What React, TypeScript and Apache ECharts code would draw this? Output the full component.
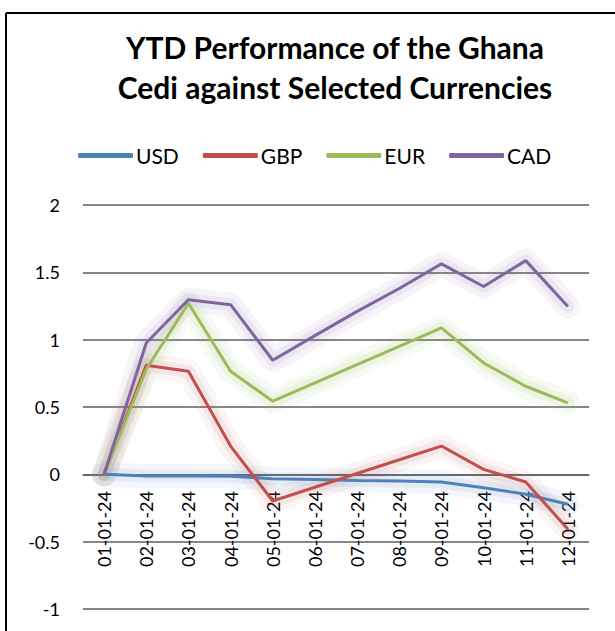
import React, { useEffect, useRef } from "react";
import * as echarts from "echarts";

const categories = ["01-01-24", "02-01-24", "03-01-24", "04-01-24", "05-01-24", "06-01-24", "07-01-24", "08-01-24", "09-01-24", "10-01-24", "11-01-24", "12-01-24"];
const usd = [0, -0.012, -0.013, -0.015, -0.032, -0.038, -0.045, -0.05, -0.057, -0.1, -0.148, -0.222];
const gbp = [0, 0.81, 0.765, 0.21, -0.198, -0.096, 0.006, 0.108, 0.21, 0.037, -0.057, -0.407];
const eur = [0, 0.78, 1.27, 0.765, 0.543, 0.68, 0.815, 0.95, 1.087, 0.827, 0.654, 0.531];
const cad = [0, 0.975, 1.296, 1.26, 0.847, 1.03, 1.21, 1.38, 1.563, 1.395, 1.587, 1.247];
const seriesNames = ["USD", "GBP", "EUR", "CAD"];
const colors = ["#4F81BD", "#C0504D", "#9BBB59", "#8064A2"];
const glowsOuter = ["rgba(79,129,189,0.07)", "rgba(192,80,77,0.06)", "rgba(155,187,89,0.08)", "rgba(128,100,162,0.07)"];
const glowsInner = ["rgba(79,129,189,0.09)", "rgba(192,80,77,0.08)", "rgba(155,187,89,0.1)", "rgba(128,100,162,0.09)"];

const FONT = "Lato, 'Open Sans', sans-serif";

export default function App() {
  const ref = useRef<HTMLDivElement>(null);
  useEffect(() => {
    if (!ref.current) return;
    const chart = echarts.init(ref.current, null, { renderer: "svg" });
    const data = [usd, gbp, eur, cad];
    const glow = (suffix: string, widths: number, cols: string[]) =>
      seriesNames.map((name, i) => ({
        name: name + suffix,
        type: "line",
        data: data[i],
        symbol: "none",
        silent: true,
        z: 1,
        lineStyle: { color: cols[i], width: widths, cap: "round", join: "round" },
      }));
    const mainSeries = seriesNames.map((name, i) => ({
      name,
      type: "line",
      data: data[i],
      symbol: "none",
      color: colors[i],
      z: 3,
      lineStyle: { color: colors[i], width: 3 },
    }));
    chart.setOption({
      animation: false,
      backgroundColor: "#ffffff",
      textStyle: { fontFamily: FONT },
      title: {
        text: "YTD Performance of the Ghana\nCedi against Selected Currencies",
        left: 330,
        textAlign: "center",
        top: 22,
        textStyle: { fontFamily: FONT, fontSize: 30, fontWeight: "bold", color: "#000", lineHeight: 40 },
      },
      legend: {
        top: 140,
        left: 73,
        icon: "roundRect",
        itemWidth: 55,
        itemHeight: 5,
        itemGap: 24,
        textStyle: { fontFamily: FONT, fontSize: 21, color: "#000", padding: [0, 0, 0, -2] },
        data: seriesNames,
      },
      graphic: [
        { type: "line", shape: { x1: 6, y1: 13, x2: 615, y2: 13 }, style: { stroke: "#000", lineWidth: 2 } },
        { type: "line", shape: { x1: 6, y1: 13, x2: 6, y2: 631 }, style: { stroke: "#000", lineWidth: 2 } },
      ],
      grid: { left: 83, right: 26, top: 205, bottom: 22, outerBoundsMode: "none", containLabel: false },
      xAxis: {
        type: "category",
        data: categories,
        boundaryGap: true,
        position: "bottom",
        offset: -134,
        axisLine: { onZero: false, lineStyle: { color: "#5f5f5f", width: 1.5 } },
        axisTick: { show: false },
        axisLabel: { rotate: 90, margin: 16, fontSize: 18, color: "#000", fontFamily: FONT },
        splitLine: { show: false },
      },
      yAxis: {
        type: "value",
        min: -1,
        max: 2,
        interval: 0.5,
        axisLine: { show: false },
        axisTick: { show: false },
        axisLabel: { margin: 23, fontSize: 18, color: "#000", fontFamily: FONT },
        splitLine: { lineStyle: { color: "#5f5f5f", width: 1.5 } },
      },
      series: [...glow(" glow2", 24, glowsOuter), ...glow(" glow1", 13, glowsInner), ...mainSeries],
    });
    return () => chart.dispose();
  }, []);
  return (
    <div style={{ position: "absolute", left: 0, top: 0, width: 615, height: 631, background: "#fff" }}>
      <div ref={ref} style={{ width: 615, height: 631 }} />
    </div>
  );
}
